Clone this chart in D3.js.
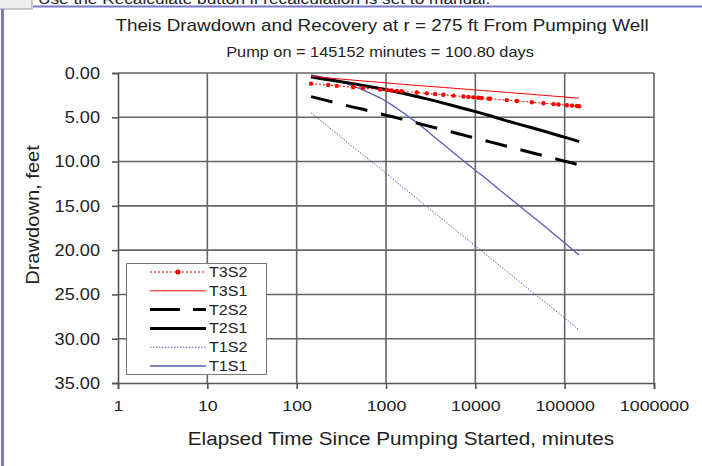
<html>
<head>
<script src="https://cdn.jsdelivr.net/npm/d3@7"></script>
<style>
  body { margin: 0; background: #fff; }
  text { font-family: Arial, "Liberation Sans", sans-serif; fill: #222; }
</style>
</head>
<body>
<script>

// elapsed time (minutes) of the computed points
var times = [145, 225, 281, 428, 554, 859, 1020, 1160, 1320, 1500, 2210, 2860, 3550, 4390, 5690, 7360,
  8370, 9520, 10800, 11800, 14000, 14600, 22500, 29100, 42900, 57900, 75000, 85300, 106000, 121000, 137000, 145152];

// drawdown, feet
var t3s2 = [1.20, 1.36, 1.45, 1.60, 1.70, 1.86, 1.92, 1.97, 2.02, 2.06, 2.21, 2.30, 2.38, 2.46, 2.56, 2.65,
  2.70, 2.75, 2.79, 2.83, 2.89, 2.90, 3.06, 3.16, 3.30, 3.41, 3.51, 3.56, 3.64, 3.68, 3.73, 3.75];
var t3s1 = [0.35, 0.55, 0.65, 0.80, 0.90, 1.05, 1.12, 1.17, 1.22, 1.27, 1.40, 1.49, 1.56, 1.63, 1.72, 1.81,
  1.85, 1.90, 1.94, 1.97, 2.03, 2.04, 2.19, 2.28, 2.41, 2.52, 2.61, 2.65, 2.73, 2.78, 2.82, 2.85];
var t2s2 = [2.67, 3.15, 3.40, 3.85, 4.10, 4.60, 4.78, 4.92, 5.07, 5.21, 5.65, 5.94, 6.18, 6.42, 6.71, 7.00,
  7.15, 7.30, 7.44, 7.54, 7.73, 7.78, 8.27, 8.56, 9.00, 9.34, 9.63, 9.78, 10.02, 10.17, 10.31, 10.38];
var t2s1 = [0.45, 0.75, 0.90, 1.20, 1.40, 1.75, 1.90, 2.02, 2.14, 2.26, 2.65, 2.92, 3.15, 3.40, 3.70, 4.00,
  4.15, 4.30, 4.45, 4.56, 4.77, 4.82, 5.40, 5.72, 6.18, 6.55, 6.88, 7.05, 7.32, 7.50, 7.66, 7.75];
var t1s2 = [4.50, 6.05, 6.85, 8.35, 9.25, 10.75, 11.40, 11.85, 12.30, 12.80, 14.15, 15.10, 15.85, 16.60, 17.55, 18.45,
  18.90, 19.35, 19.80, 20.10, 20.70, 20.85, 22.40, 23.30, 24.70, 25.75, 26.65, 27.10, 27.85, 28.35, 28.80, 29.00];
var t1s1 = [0.20, 0.60, 0.85, 1.45, 1.90, 2.80, 3.25, 3.60, 3.98, 4.38, 5.60, 6.50, 7.30, 8.05, 9.00, 9.90,
  10.35, 10.80, 11.25, 11.55, 12.15, 12.30, 13.85, 14.75, 16.15, 17.20, 18.15, 18.60, 19.40, 19.90, 20.35, 20.55];

var xTicks = [1, 10, 100, 1000, 10000, 100000, 1000000];
var yTicks = [0, 5, 10, 15, 20, 25, 30, 35];

var seriesNames = ['T3S2', 'T3S1', 'T2S2', 'T2S1', 'T1S2', 'T1S1'];
var seriesValues = [t3s2, t3s1, t2s2, t2s1, t1s2, t1s1];

var styles = {
  T3S2: {color: '#ff0000', width: 1, dash: '2,2', marker: true},
  T3S1: {color: '#ff0000', width: 1, dash: null},
  T2S2: {color: '#000000', width: 3, dash: '22,14'},
  T2S1: {color: '#000000', width: 3, dash: null},
  T1S2: {color: '#5a5ab8', width: 1, dash: '1.5,1.5'},
  T1S1: {color: '#5a5ab8', width: 1.3, dash: null}
};

var width = 702, height = 466,
  plotLeft = 118, plotRight = 654, plotTop = 73, plotBottom = 383,
  stretch = 1.15;

var x = d3.scaleLog().domain([1, 1000000]).range([plotLeft, plotRight]);
var y = d3.scaleLinear().domain([0, 35]).range([plotTop, plotBottom]);

var svg = d3.select('body').append('svg')
  .attr('width', width)
  .attr('height', height);

// window decoration (spreadsheet frame)
svg.append('text')
  .attr('transform', 'translate(38,4) scale(' + stretch + ',1)')
  .style('font-size', '15px')
  .text('Use the Recalculate button if recalculation is set to manual.');
svg.append('rect').attr('x', -1).attr('y', -1).attr('width', 33).attr('height', 10)
  .attr('fill', '#eee').attr('stroke', '#999');
svg.append('line').attr('x1', 33).attr('x2', width).attr('y1', 6.5).attr('y2', 6.5)
  .attr('stroke', '#7878c8').attr('stroke-width', 2);
svg.append('line').attr('x1', 2.5).attr('x2', 2.5).attr('y1', 9).attr('y2', height)
  .attr('stroke', '#7878c8').attr('stroke-width', 3);

function stretchedText(tx, ty, str, size, anchor) {
  return svg.append('text')
    .attr('transform', 'translate(' + tx + ',' + ty + ') scale(' + stretch + ',1)')
    .attr('text-anchor', anchor || 'middle')
    .style('font-size', size + 'px')
    .text(str);
}

// titles
stretchedText(382, 31, 'Theis Drawdown and Recovery at r = 275 ft From Pumping Well', 16.4);
stretchedText(380, 57, 'Pump on = 145152 minutes = 100.80 days', 14.2);
stretchedText(401, 445, 'Elapsed Time Since Pumping Started, minutes', 18);
svg.append('text')
  .attr('transform', 'translate(39,215) rotate(-90) scale(' + stretch + ',1)')
  .attr('text-anchor', 'middle')
  .style('font-size', '17.5px')
  .text('Drawdown, feet');

// grid
var grid = svg.append('g').attr('stroke', '#666').attr('stroke-width', 1.6);
grid.selectAll('.vg').data(xTicks.slice(1)).enter().append('line')
  .attr('x1', function(d) { return x(d); })
  .attr('x2', function(d) { return x(d); })
  .attr('y1', plotTop).attr('y2', plotBottom);
grid.selectAll('.hg').data(yTicks.slice(0, -1)).enter().append('line')
  .attr('x1', plotLeft).attr('x2', plotRight)
  .attr('y1', function(d) { return y(d); })
  .attr('y2', function(d) { return y(d); });

// axes
var yAxis = svg.append('g')
  .attr('transform', 'translate(' + plotLeft + ',0)')
  .call(d3.axisLeft(y).tickValues(yTicks).tickFormat(d3.format('.2f')).tickSize(6).tickPadding(0));
var xAxis = svg.append('g')
  .attr('transform', 'translate(0,' + plotBottom + ')')
  .call(d3.axisBottom(x).tickValues(xTicks).tickFormat(d3.format('d')).tickSize(6).tickPadding(11));

[yAxis, xAxis].forEach(function(a) {
  a.select('.domain').attr('stroke', '#555').attr('stroke-width', 1.6);
  a.selectAll('.tick line').attr('stroke', '#555').attr('stroke-width', 1.6);
  a.selectAll('.tick text').style('font-size', '15.5px').attr('fill', '#333');
});
yAxis.selectAll('.tick text')
  .attr('x', null)
  .style('font-size', '16.5px')
  .attr('transform', 'translate(-18,0) scale(1.1,1)');
xAxis.selectAll('.tick text').attr('transform', 'scale(' + stretch + ',1)');

// series
var line = d3.line()
  .x(function(d) { return x(d[0]); })
  .y(function(d) { return y(d[1]); });

var plot = svg.append('g');
seriesNames.slice().reverse().forEach(function(name) {
  var vals = seriesValues[seriesNames.indexOf(name)];
  var pts = times.map(function(t, i) { return [t, vals[i]]; });
  var s = styles[name];
  plot.append('path')
    .datum(pts)
    .attr('d', line)
    .attr('fill', 'none')
    .attr('stroke', s.color)
    .attr('stroke-width', s.width)
    .attr('stroke-dasharray', s.dash);
  if (s.marker) {
    plot.selectAll('.m' + name).data(pts).enter().append('circle')
      .attr('cx', function(d) { return x(d[0]); })
      .attr('cy', function(d) { return y(d[1]); })
      .attr('r', 2.2)
      .attr('fill', s.color);
  }
});

// legend
var legend = svg.append('g');
legend.append('rect')
  .attr('x', 126.5).attr('y', 263.5).attr('width', 140).attr('height', 111)
  .attr('fill', '#fff').attr('stroke', '#777').attr('stroke-width', 1);
var ly = d3.scalePoint().domain(seriesNames).range([272, 366]);
seriesNames.forEach(function(name) {
  var s = styles[name];
  var yy = ly(name);
  legend.append('line')
    .attr('x1', 150).attr('x2', 206).attr('y1', yy).attr('y2', yy)
    .attr('stroke', s.color).attr('stroke-width', s.width)
    .attr('stroke-dasharray', name === 'T2S2' ? '30,13' : s.dash);
  if (s.marker) {
    legend.append('circle').attr('cx', 178).attr('cy', yy).attr('r', 2.5).attr('fill', s.color);
  }
  legend.append('text')
    .attr('transform', 'translate(209,' + (yy + 5) + ') scale(' + stretch + ',1)')
    .style('font-size', '14px')
    .text(name);
});

</script>
</body>
</html>
